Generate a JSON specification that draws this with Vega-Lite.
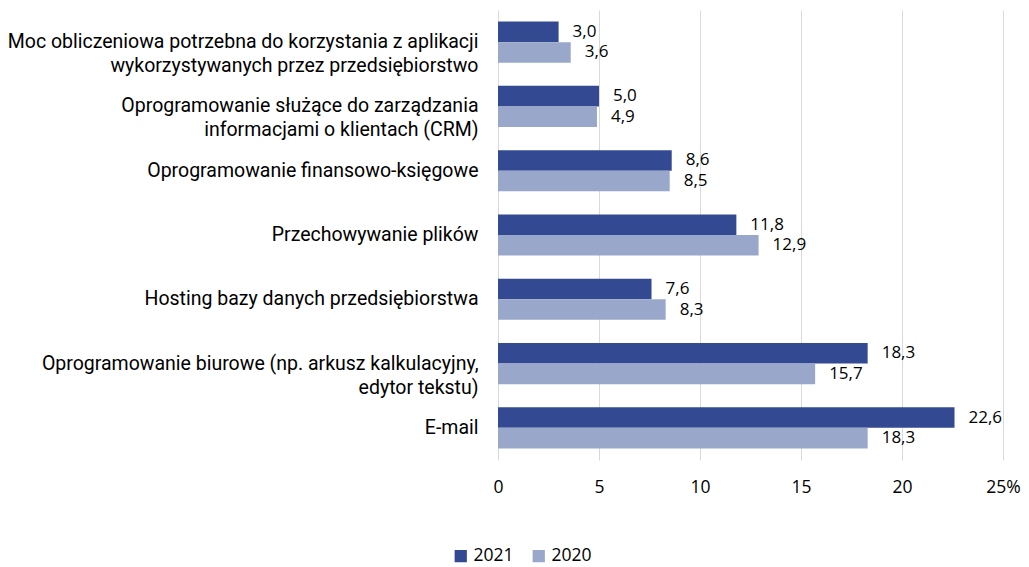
{
  "$schema": "https://vega.github.io/schema/vega-lite/v6.json",
  "width": 505,
  "height": 450,
  "padding": {"left": 0, "top": 10, "right": 0, "bottom": 0},
  "background": "white",
  "config": {
    "locale": {"number": {"decimal": ",", "thousands": " ", "grouping": [3], "currency": ["", " zł"]}},
    "view": {"stroke": null},
    "font": "Open Sans"
  },
  "data": {
    "values": [
      {"cat": "Moc obliczeniowa potrzebna do korzystania z aplikacji|wykorzystywanych przez przedsiębiorstwo", "year": "2021", "value": 3.0},
      {"cat": "Moc obliczeniowa potrzebna do korzystania z aplikacji|wykorzystywanych przez przedsiębiorstwo", "year": "2020", "value": 3.6},
      {"cat": "Oprogramowanie służące do zarządzania|informacjami o klientach (CRM)", "year": "2021", "value": 5.0},
      {"cat": "Oprogramowanie służące do zarządzania|informacjami o klientach (CRM)", "year": "2020", "value": 4.9},
      {"cat": "Oprogramowanie finansowo-księgowe ", "year": "2021", "value": 8.6},
      {"cat": "Oprogramowanie finansowo-księgowe ", "year": "2020", "value": 8.5},
      {"cat": "Przechowywanie plików", "year": "2021", "value": 11.8},
      {"cat": "Przechowywanie plików", "year": "2020", "value": 12.9},
      {"cat": "Hosting bazy danych przedsiębiorstwa", "year": "2021", "value": 7.6},
      {"cat": "Hosting bazy danych przedsiębiorstwa", "year": "2020", "value": 8.3},
      {"cat": "Oprogramowanie biurowe (np. arkusz kalkulacyjny,|edytor tekstu)", "year": "2021", "value": 18.3},
      {"cat": "Oprogramowanie biurowe (np. arkusz kalkulacyjny,|edytor tekstu)", "year": "2020", "value": 15.7},
      {"cat": "E-mail", "year": "2021", "value": 22.6},
      {"cat": "E-mail", "year": "2020", "value": 18.3}
    ]
  },
  "encoding": {
    "y": {
      "field": "cat", "type": "nominal", "sort": null, "title": null,
      "scale": {"paddingInner": 0.36, "paddingOuter": 0.18},
      "axis": {
        "domain": false, "ticks": false, "labelPadding": 20,
        "labelExpr": "split(datum.label, '|')",
        "labelFont": "Roboto", "labelFontSize": 19.5, "labelColor": "#000000",
        "labelLimit": 600, "labelLineHeight": 24,
        "minExtent": 498, "maxExtent": 498
      }
    },
    "x": {
      "field": "value", "type": "quantitative", "title": null,
      "scale": {"domain": [0, 25], "nice": false},
      "axis": {
        "values": [0, 5, 10, 15, 20, 25], "domain": false, "ticks": false,
        "labelFlush": false,
        "labelPadding": 18, "labelFontSize": 17.5, "labelColor": "#000000",
        "gridColor": "#D9D9D9", "gridWidth": 1,
        "labelExpr": "datum.value == 25 ? '25%' : datum.label"
      }
    },
    "yOffset": {"field": "year", "type": "nominal", "sort": ["2021", "2020"]}
  },
  "layer": [
    {
      "mark": {"type": "bar"},
      "encoding": {
        "color": {
          "field": "year", "type": "nominal",
          "scale": {"domain": ["2021", "2020"], "range": ["#334A93", "#99A7CA"]},
          "legend": {
            "title": null, "orient": "none", "direction": "horizontal",
            "legendX": -46, "legendY": 537,
            "symbolType": "square", "symbolSize": 150, "symbolStrokeWidth": 0,
            "labelFontSize": 17.5, "labelColor": "#000000", "columnPadding": 16, "labelOffset": 4
          }
        }
      }
    },
    {
      "mark": {"type": "text", "align": "left", "baseline": "middle", "dx": 14, "fontSize": 17, "color": "#000000"},
      "encoding": {
        "text": {"field": "value", "type": "quantitative", "format": ".1f"}
      }
    }
  ]
}
